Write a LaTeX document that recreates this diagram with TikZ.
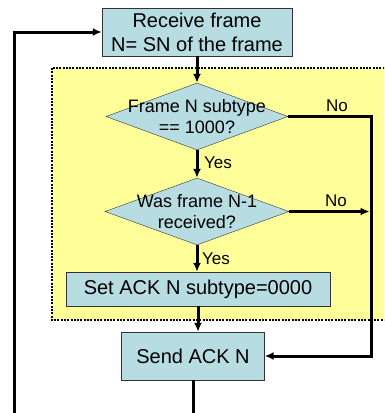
\documentclass[tikz,border=0pt]{standalone}
\usepackage{fontspec}
\setmainfont{Liberation Sans}
\usetikzlibrary{arrows.meta,shapes.geometric}
\definecolor{boxblue}{RGB}{183,221,226}
\definecolor{zoneyellow}{RGB}{255,255,153}

\begin{document}
\begin{tikzpicture}[x=1pt,y=-1pt,
	box/.style={shape=rectangle,draw=black!80,fill=boxblue,inner sep=0pt,align=center,font=\fontsize{20}{24}\selectfont},
	test/.style={shape=diamond,draw=black!80,fill=boxblue,inner sep=0pt},
	testtext/.style={align=center,inner sep=0pt,font=\fontsize{18}{21}\selectfont},
	answer/.style={inner sep=0pt,font=\fontsize{17}{20}\selectfont},
	flow/.style={line width=3pt,-{Latex[length=9pt,width=8pt]}}]

	\useasboundingbox (0,0) rectangle (384,413);
	\clip (0,0) rectangle (384,413);

	\draw[fill=zoneyellow,line width=2.2pt,dash pattern=on 2pt off 1.3pt] (52,68) rectangle (392,320);

	\node[box,minimum width=190pt,minimum height=48pt] (recv) at (197,32) {Receive frame\\N= SN of the frame};
	\node[test,minimum width=182pt,minimum height=67pt] (d1) at (197,116.5) {};
	\node[testtext] (d1t) at (d1) {Frame N subtype\\== 1000?};
	\node[test,minimum width=184pt,minimum height=67pt] (d2) at (197,211.5) {};
	\node[testtext] (d2t) at (d2) {Was frame N-1\\received?};
	\node[box,minimum width=264pt,minimum height=34pt] (setack) at (198,289) {Set ACK N subtype=0000};
	\node[box,minimum width=143pt,minimum height=48pt] (send) at (193,356) {Send ACK N};

	\node[answer] (yes1) at (218,163) {Yes};
	\node[answer] (yes2) at (216,259) {Yes};
	\node[answer] (no1) at (337,106) {No};
	\node[answer] (no2) at (336,201) {No};

	\coordinate (rx) at (371,0);
	\coordinate (lx) at (14,440);

	\path[flow] (recv.south) edge (d1.north);
	\path[flow] (d1.south) edge (d2.north);
	\path[flow] (d2.south) edge (d2.south |- setack.north);
	\path[flow] (setack.south) edge (setack.south |- send.north);
	\draw[flow] (d1.east) -- (d1.east -| rx) |- (send.east);
	\draw[flow,shorten >=1.5pt] (d2.east) -- (d2.east -| rx);
	\draw[flow] (send.south) -- (send.south |- lx) -- (lx) |- (recv.west);

\end{tikzpicture}
\end{document}
